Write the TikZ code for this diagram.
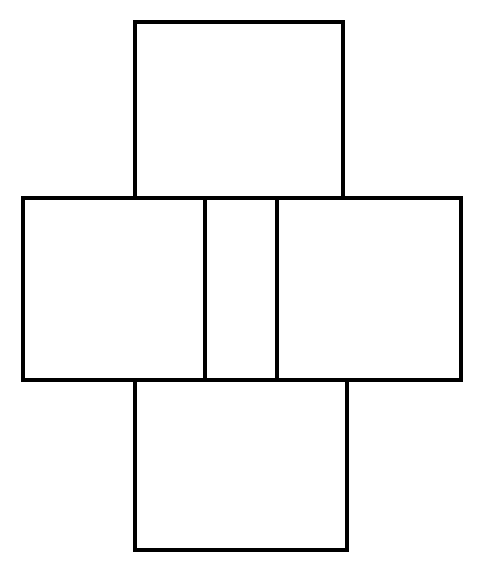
\documentclass[tikz,border=0pt]{standalone}
\usepackage{tikz}
\usetikzlibrary{positioning}
\begin{document}
\begin{tikzpicture}[x=0.02cm,y=-0.02cm,face/.style={draw,line width=2.4pt}]
\useasboundingbox (0,0) rectangle (485,574);
% top face
\draw[face] (135,22) rectangle (343,198);
% middle row
\draw[face] (23,198) rectangle (205,380);
\draw[face] (205,198) rectangle (277,380);
\draw[face] (277,198) rectangle (461,380);
% bottom face
\draw[face] (135,380) rectangle (347,550);
\end{tikzpicture}
\end{document}
